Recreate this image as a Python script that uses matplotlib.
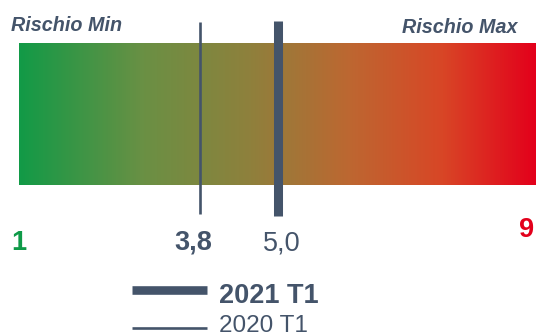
import numpy as np
import matplotlib
matplotlib.use("Agg")
import matplotlib.pyplot as plt
from matplotlib.colors import LinearSegmentedColormap

# Risk scale and indicator values
scale_min, scale_max = 1, 9
current_value = 5.0     # 2021 T1
previous_value = 3.8    # 2020 T1
series_labels = ["2021 T1", "2020 T1"]
value_labels = ["5,0", "3,8"]
end_labels = ["1", "9"]
side_titles = ["Rischio Min", "Rischio Max"]

slate = "#44546a"
green = "#0f9a48"
red = "#e3001b"

plt.rcParams["font.family"] = ["Liberation Sans", "DejaVu Sans"]

W, H = 536, 336
fig = plt.figure(figsize=(W / 100, H / 100), dpi=100)
ax = fig.add_axes([0, 0, 1, 1])
ppu = (W - 19) / (scale_max - scale_min)
ax.set_xlim(scale_min - 19 / ppu, scale_max)
ax.set_ylim(H, 0)
ax.axis("off")

# Green-to-red gradient band
cmap = LinearSegmentedColormap.from_list(
    "risk",
    [(0.0, "#129a47"), (0.24, "#6a9044"), (0.45, "#8f803c"),
     (0.64, "#bd6731"), (0.82, "#d84626"), (1.0, red)],
)
grad = np.linspace(0, 1, 512)[None, :]
ax.imshow(grad, cmap=cmap, aspect="auto",
          extent=[scale_min, scale_max, 185, 43], zorder=1)

# Indicator lines
ax.plot([previous_value, previous_value], [22, 214], color=slate,
        lw=1.9, solid_capstyle="butt", zorder=3)
ax.plot([current_value, current_value], [21, 216], color=slate,
        lw=6.5, solid_capstyle="butt", zorder=3)

# Side titles
ax.text(scale_min - 8 / ppu, 31, side_titles[0], fontsize=14.2, fontweight="bold",
        fontstyle="italic", color=slate, ha="left", va="baseline")
ax.text(scale_max - 19 / ppu, 33, side_titles[1], fontsize=14.2, fontweight="bold",
        fontstyle="italic", color=slate, ha="right", va="baseline")

# End-of-scale labels
ax.text(scale_min, 250, end_labels[0], fontsize=19.5, fontweight="bold",
        color=green, ha="center", va="baseline")
ax.text(scale_max - 9 / ppu, 237, end_labels[1], fontsize=19.5, fontweight="bold",
        color=red, ha="center", va="baseline")

# Value labels
ax.annotate(value_labels[1], (previous_value, 250), xytext=(-7, 0),
            textcoords="offset pixels", fontsize=19.5, fontweight="bold",
            color=slate, ha="center", va="baseline")
ax.annotate(value_labels[0], (current_value, 250), xytext=(4, 0),
            textcoords="offset pixels", fontsize=19.5,
            color=slate, ha="center", va="baseline")

# Legend
lx0 = scale_min + (132 - 19) / ppu
lx1 = scale_min + (207 - 19) / ppu
ax.plot([lx0, lx1], [290, 290], color=slate, lw=6.2, solid_capstyle="butt")
ax.plot([lx0, lx1], [327.5, 327.5], color=slate, lw=1.9, solid_capstyle="butt")
tx = scale_min + (219 - 19) / ppu
ax.text(tx, 303, series_labels[0], fontsize=19.5, fontweight="bold",
        color=slate, ha="left", va="baseline")
ax.text(tx, 332.5, series_labels[1], fontsize=17.5,
        color=slate, ha="left", va="baseline")

fig.savefig("out.png", dpi=100)
